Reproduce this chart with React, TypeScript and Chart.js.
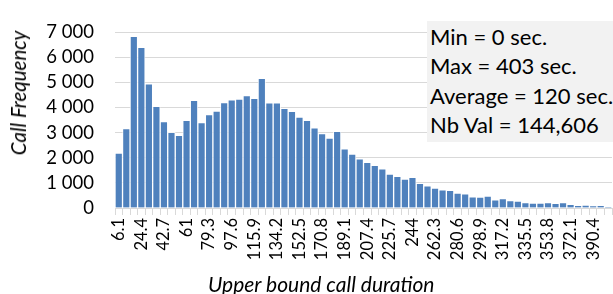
import React, { useEffect, useRef } from "react";
import { Chart, registerables } from "chart.js";

Chart.register(...registerables);

const categories: string[] = [
  "6.1", "12.2", "18.3", "24.4", "30.5", "36.6", "42.7", "48.8", "54.9", "61",
  "67.1", "73.2", "79.3", "85.4", "91.5", "97.6", "103.7", "109.8", "115.9", "122",
  "128.1", "134.2", "140.3", "146.4", "152.5", "158.6", "164.7", "170.8", "176.9", "183",
  "189.1", "195.2", "201.3", "207.4", "213.5", "219.6", "225.7", "231.8", "237.9", "244",
  "250.1", "256.2", "262.3", "268.4", "274.5", "280.6", "286.7", "292.8", "298.9", "305",
  "311.1", "317.2", "323.3", "329.4", "335.5", "341.6", "347.7", "353.8", "359.9", "366",
  "372.1", "378.2", "384.3", "390.4", "396.5", "402.6",
];

const callFrequency: number[] = [
  2190, 3160, 6830, 6390, 4940, 4050, 3440, 3010, 2890, 3490,
  4280, 3400, 3720, 3860, 4200, 4300, 4330, 4470, 4360, 5160,
  4190, 4190, 3970, 3850, 3620, 3490, 3190, 2960, 2780, 3050,
  2350, 2150, 1960, 1820, 1700, 1560, 1350, 1260, 1150, 1220,
  980, 880, 790, 720, 700, 590, 560, 440, 430, 470,
  330, 370, 300, 280, 220, 200, 200, 220, 185, 220,
  150, 110, 120, 100, 110, 40,
];

const yTicks: number[] = [0, 1000, 2000, 3000, 4000, 5000, 6000, 7000];

const statLines: string[] = [
  "Min = 0 sec.",
  "Max = 403 sec.",
  "Average = 120 sec.",
  "Nb Val = 144,606",
];

const yTitle = "Call Frequency";
const xTitle = "Upper bound call duration";

const FONT = "Lato, 'Open Sans', sans-serif";

export default function App() {
  const ref = useRef<HTMLCanvasElement | null>(null);

  useEffect(() => {
    if (!ref.current) return;
    const chart = new Chart(ref.current, {
      type: "bar",
      data: {
        labels: categories,
        datasets: [
          {
            data: callFrequency,
            backgroundColor: "#4f81bd",
            borderColor: "rgba(255,255,255,0.75)",
            borderWidth: 1,
            barPercentage: 1,
            categoryPercentage: 1,
          },
        ],
      },
      options: {
        responsive: false,
        animation: false,
        plugins: { legend: { display: false }, tooltip: { enabled: false } },
        layout: { padding: { top: 20, right: 1, left: 0, bottom: 0 } },
        scales: {
          x: {
            grid: {
              drawOnChartArea: false,
              drawTicks: true,
              tickLength: 7,
              color: "#d9d9d9",
            },
            border: { display: true, color: "#d9d9d9" },
            ticks: {
              autoSkip: false,
              minRotation: 90,
              maxRotation: 90,
              padding: 3,
              color: "#000",
              font: { family: FONT, size: 16.5 },
              callback: (_v: any, i: number) => (i % 3 === 0 ? categories[i] : ""),
            },
            afterFit: (s: any) => {
              s.height = 86;
              s.paddingLeft = 0;
              s.paddingRight = 0;
            },
          },
          y: {
            min: yTicks[0],
            max: yTicks[yTicks.length - 1],
            grid: { color: "#d9d9d9", drawTicks: false },
            border: { display: false },
            afterBuildTicks: (s: any) => {
              s.ticks = yTicks.map((v) => ({ value: v }));
            },
            ticks: {
              autoSkip: false,
              padding: 21,
              color: "#000",
              font: { family: FONT, size: 18.5 },
              callback: (v: any) => String(v).replace(/\B(?=(\d{3})+(?!\d))/g, " "),
            },
            afterFit: (s: any) => {
              s.width = 115;
            },
          },
        },
      },
    });
    return () => chart.destroy();
  }, []);

  return (
    <div style={{ position: "fixed", left: 0, top: 0, width: 613, height: 294, background: "#fff", fontFamily: FONT }}>
      <canvas ref={ref} width={613} height={294} style={{ position: "absolute", left: 0, top: 0 }} />
      <div
        style={{
          position: "absolute",
          left: 18,
          top: 92.5,
          transform: "translate(-50%, -50%) rotate(-90deg)",
          whiteSpace: "nowrap",
          fontStyle: "italic",
          fontSize: 20.5,
          color: "#000",
          lineHeight: "22px",
        }}
      >
        {yTitle}
      </div>
      <div
        style={{
          position: "absolute",
          left: 208,
          top: 271.5,
          whiteSpace: "nowrap",
          fontStyle: "italic",
          fontSize: 21,
          color: "#000",
          lineHeight: "24px",
        }}
      >
        {xTitle}
      </div>
      <div
        style={{
          position: "absolute",
          left: 427,
          top: 21,
          width: 186,
          height: 121,
          background: "#f2f2f2",
          boxSizing: "border-box",
          paddingLeft: 3,
          paddingTop: 1,
          fontSize: 22,
          lineHeight: "29.3px",
          color: "#000",
          whiteSpace: "nowrap",
          overflow: "hidden",
        }}
      >
        {statLines.map((t) => (
          <div key={t}>{t}</div>
        ))}
      </div>
    </div>
  );
}
